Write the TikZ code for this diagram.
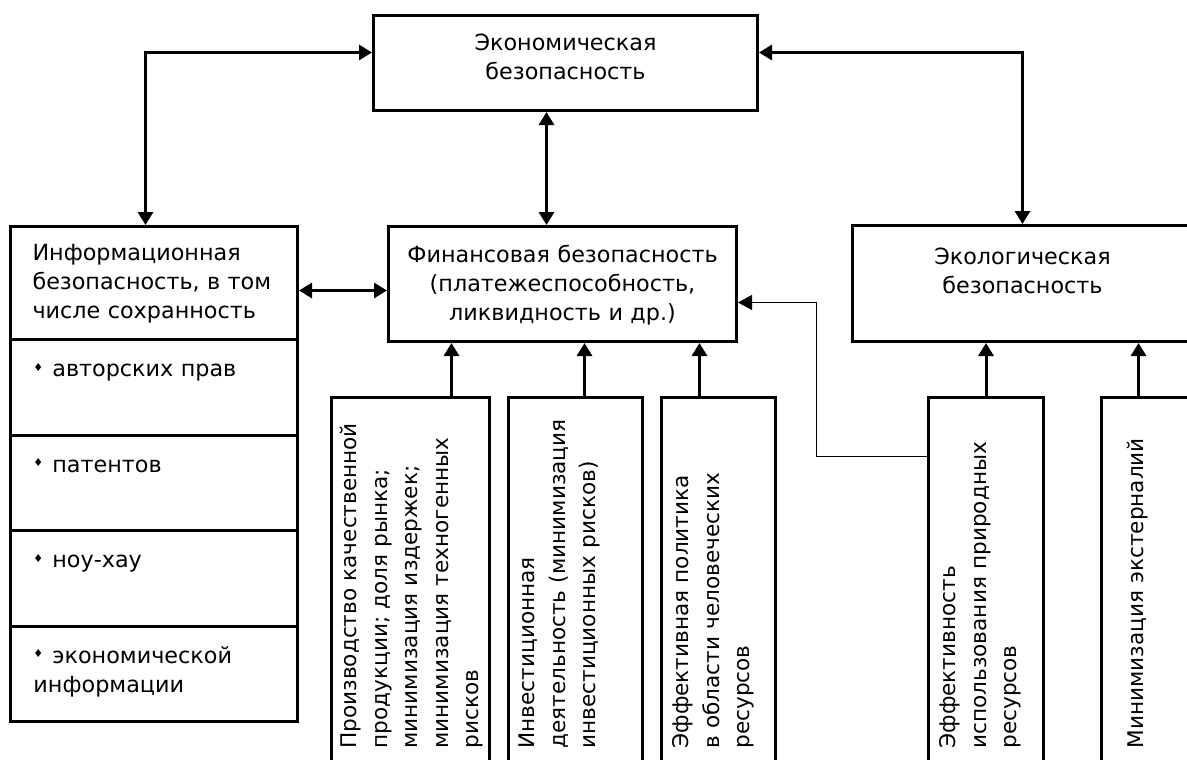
\documentclass[tikz,border=0pt]{standalone}
\usepackage{fontspec}
\setmainfont{DejaVu Sans}
\usetikzlibrary{matrix,positioning,arrows.meta}
\newcommand{\lbul}{\raisebox{.45ex}{\fontsize{11}{11}\selectfont ♦}}

\begin{document}
\begin{tikzpicture}[x=1pt,y=-1pt,
  hbox/.style={draw,line width=3pt,anchor=north west,align=center,
    font=\fontsize{22.3}{29}\selectfont,text height=17pt},
  vbox/.style={draw,line width=3pt,rotate=90,anchor=north east,align=left,
    font=\fontsize{21.6}{30.5}\selectfont,text height=17pt,
    text width=337pt,inner xsep=14pt},
  lcell/.style={draw,line width=3pt,align=left,text width=241pt,
    inner xsep=23pt,inner ysep=20pt,text height=17pt,text depth=38.5pt,
    font=\fontsize{22.3}{29}\selectfont},
  arr/.style={line width=3pt,-{Triangle[length=13pt,width=15pt]}},
  darr/.style={line width=3pt,{Triangle[length=13pt,width=15pt]}-{Triangle[length=13pt,width=15pt]}},
  tarr/.style={line width=1pt,-{Triangle[length=14pt,width=15pt]}}]
 \useasboundingbox[fill=white] (0,0) rectangle (1187,760);
 \clip (0,0) rectangle (1187,760);
 \node[hbox,text width=364pt,inner xsep=10pt,inner ysep=18pt,text depth=42pt] (econ) at (372,14)
  {Экономическая\\безопасность};
 \node[hbox,align=left,text width=243pt,inner xsep=22pt,inner ysep=17pt,text depth=62pt] (info) at (9,225)
  {Информационная\\безопасность, в том\\числе сохранность};
 \node[hbox,text width=328pt,inner xsep=10pt,inner ysep=19pt,text depth=60pt] (fin) at (387,225)
  {Финансовая безопасность\\(платежеспособность,\\ликвидность и др.)};
 \node[hbox,text width=320pt,inner xsep=10pt,inner ysep=22pt,text depth=55pt] (ecol) at (851,224)
  {Экологическая\\безопасность};
 \matrix[matrix of nodes,below=-3pt of info,inner sep=0pt,row sep=-3pt,nodes={lcell}] (infl)
  {\lbul\hspace{9pt}авторских прав\\
   \lbul\hspace{9pt}патентов\\
   \lbul\hspace{9pt}ноу-хау\\
   \lbul\hspace{9pt}экономической информации\\};
 \node[vbox,inner ysep=8pt,text depth=125pt] (prod) at (330,396)
  {Производство качественной\\продукции; доля рынка;\\минимизация издержек;\\минимизация техногенных\\рисков};
 \node[vbox,inner ysep=9pt,text depth=99pt] (inv) at (507,396)
  {Инвестиционная\\деятельность (минимизация\\инвестиционных рисков)};
 \node[vbox,inner ysep=10pt,text depth=77pt] (hr) at (660,396)
  {Эффективная политика\\в области человеческих\\ресурсов};
 \node[vbox,inner ysep=10pt,text depth=78pt] (nat) at (927,396)
  {Эффективность\\использования природных\\ресурсов};
 \node[vbox,inner ysep=25pt,text depth=63pt] (ext) at (1100,396)
  {Минимизация экстерналий};

 \foreach \b/\s/\t in {prod/41/fin,inv/9/fin,hr/-19/fin,nat/0/ecol,ext/-28/ecol}
  {\coordinate (a\b) at ([xshift=\s pt]\b.east);
   \draw[arr] (a\b) -- (a\b |- \t.south);}
 \coordinate (ef) at ([xshift=-19pt]econ.south);
 \draw[darr] (ef) -- (ef |- fin.north);
 \draw[darr] ([yshift=10.5pt]econ.west) -| ([xshift=-8.5pt]info.north);
 \draw[darr] ([yshift=10.5pt]econ.east) -| (ecol.north);
 \coordinate (ifn) at ([yshift=-7.5pt]info.east);
 \draw[darr] (ifn) -- (ifn -| fin.west);
 \coordinate (k1) at ([xshift=78pt,yshift=-18.5pt]fin.east);
 \draw[tarr] ([yshift=124pt]nat.north) -| (k1) -- (k1 -| fin.east);
\end{tikzpicture}
\end{document}
